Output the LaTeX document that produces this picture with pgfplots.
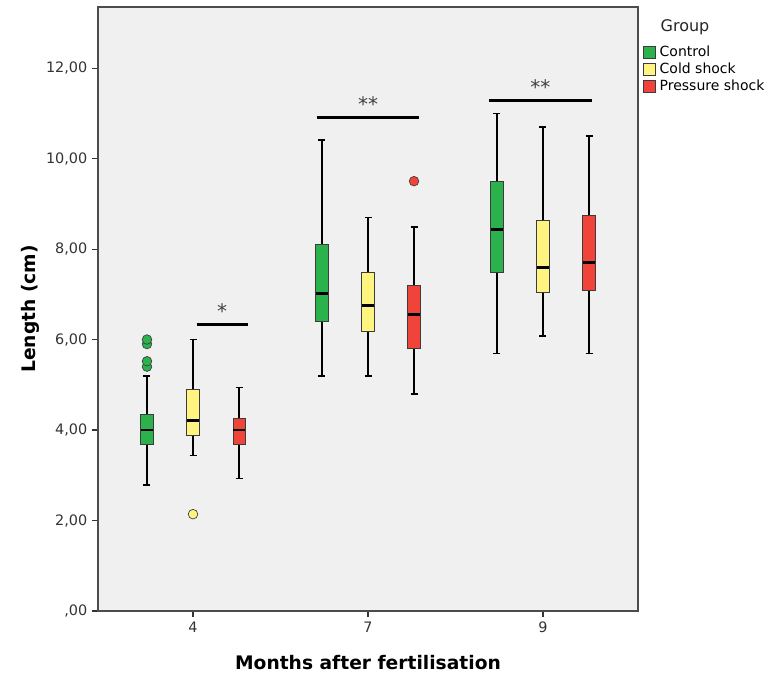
\documentclass[border=0pt]{standalone}
\usepackage{fontspec}
\setmainfont{DejaVu Sans}
\usepackage{pgfplots}
\pgfplotsset{compat=1.18}
\usepgfplotslibrary{statistics}

\definecolor{bg}{RGB}{240,240,240}
\definecolor{ctrl}{RGB}{44,178,76}
\definecolor{cold}{RGB}{255,244,128}
\definecolor{pres}{RGB}{240,68,58}
\definecolor{edge}{RGB}{60,60,60}

\pgfplotsset{
  sbox/.style={
    boxplot/draw direction=y,
    boxplot/box extend=0.07,
    boxplot/whisker extend=0.04,
    boxplot/every box/.style={fill=#1, draw=edge, line width=0.6pt},
    boxplot/every whisker/.style={black, line width=1.2pt},
    boxplot/every median/.style={black, line width=2.2pt},
    mark=*, mark size=3.6pt,
    mark options={fill=#1, draw=edge, line width=0.5pt},
    forget plot,
  },
  sig/.style={black, line width=2.2pt, forget plot},
}
\tikzset{sigstar/.style={pos=0.5, above=0pt, text=black!75, font=\fontsize{15}{15}\selectfont}}

\begin{document}
\begin{tikzpicture}
\begin{axis}[
  name=ax,
  scale only axis,
  width=405pt, height=453pt,
  xmin=-0.543, xmax=2.543,
  ymin=0, ymax=13.35,
  axis background/.style={fill=bg},
  axis line style={black!70, line width=0.8pt},
  xtick={0,1,2}, xticklabels={4,7,9},
  ytick={0,2,4,6,8,10,12},
  yticklabels={{,00},{2,00},{4,00},{6,00},{8,00},{10,00},{12,00}},
  tick pos=left, tick align=outside,
  major tick length=4.5pt,
  tick style={black!80, line width=0.8pt},
  tick label style={font=\fontsize{10.8}{12}\selectfont, text=black!80},
  xlabel={\textbf{Months after fertilisation}},
  ylabel={\textbf{Length (cm)}},
  label style={font=\fontsize{14}{16}\selectfont},
  xlabel style={at={(axis description cs:0.5,-0.086)}, anchor=center},
  ylabel style={at={(axis description cs:-0.126,0.5)}, anchor=center},
  clip=false,
  legend style={at={(1.009,0.938)}, anchor=north west, draw=none, fill=none,
    font=\fontsize{10.5}{12}\selectfont, inner sep=0pt, row sep=2pt,
    column sep=3pt,
    nodes={inner sep=0pt, text height=8.5pt, text depth=2.5pt},
    legend cell align=left},
  legend image code/.code={\draw[#1] (0pt,-4.5pt) rectangle (9pt,4.5pt);},
]
% month 4
\addplot[sbox=ctrl, boxplot prepared={draw position=-0.263,
  lower whisker=2.78, lower quartile=3.68, median=4.0,
  upper quartile=4.35, upper whisker=5.19}]
  table[row sep=\\, y index=0] {5.4\\5.52\\5.9\\6.0\\};
\addplot[sbox=cold, boxplot prepared={draw position=0,
  lower whisker=3.44, lower quartile=3.89, median=4.22,
  upper quartile=4.9, upper whisker=6.0}]
  table[row sep=\\, y index=0] {2.14\\};
\addplot[sbox=pres, boxplot prepared={draw position=0.263,
  lower whisker=2.93, lower quartile=3.69, median=4.0,
  upper quartile=4.25, upper whisker=4.94}]
  coordinates {};
% month 7
\addplot[sbox=ctrl, boxplot prepared={draw position=0.737,
  lower whisker=5.19, lower quartile=6.39, median=7.01,
  upper quartile=8.1, upper whisker=10.41}]
  coordinates {};
\addplot[sbox=cold, boxplot prepared={draw position=1,
  lower whisker=5.19, lower quartile=6.19, median=6.75,
  upper quartile=7.49, upper whisker=8.7}]
  coordinates {};
\addplot[sbox=pres, boxplot prepared={draw position=1.263,
  lower whisker=4.8, lower quartile=5.8, median=6.55,
  upper quartile=7.2, upper whisker=8.49}]
  table[row sep=\\, y index=0] {9.5\\};
% month 9
\addplot[sbox=ctrl, boxplot prepared={draw position=1.737,
  lower whisker=5.69, lower quartile=7.49, median=8.44,
  upper quartile=9.5, upper whisker=11.0}]
  coordinates {};
\addplot[sbox=cold, boxplot prepared={draw position=2,
  lower whisker=6.08, lower quartile=7.05, median=7.6,
  upper quartile=8.64, upper whisker=10.7}]
  coordinates {};
\addplot[sbox=pres, boxplot prepared={draw position=2.263,
  lower whisker=5.69, lower quartile=7.09, median=7.71,
  upper quartile=8.75, upper whisker=10.5}]
  coordinates {};
% significance bars
\addplot[sig] coordinates {(0.021,6.34) (0.313,6.34)} node[sigstar] {*};
\addplot[sig] coordinates {(0.707,10.91) (1.293,10.91)} node[sigstar] {**};
\addplot[sig] coordinates {(1.691,11.28) (2.278,11.28)} node[sigstar] {**};
% legend
\addlegendimage{fill=ctrl, draw=edge}
\addlegendentry{Control}
\addlegendimage{fill=cold, draw=edge}
\addlegendentry{Cold shock}
\addlegendimage{fill=pres, draw=edge}
\addlegendentry{Pressure shock}
\node[font=\fontsize{12}{13}\selectfont, text=black!85] at (rel axis cs:1.087,0.966) {Group};
\end{axis}
\pgfresetboundingbox
\path ([xshift=-73.5pt,yshift=-47.25pt]ax.south west) rectangle ([xshift=105pt,yshift=5.25pt]ax.north east);
\end{tikzpicture}
\end{document}
